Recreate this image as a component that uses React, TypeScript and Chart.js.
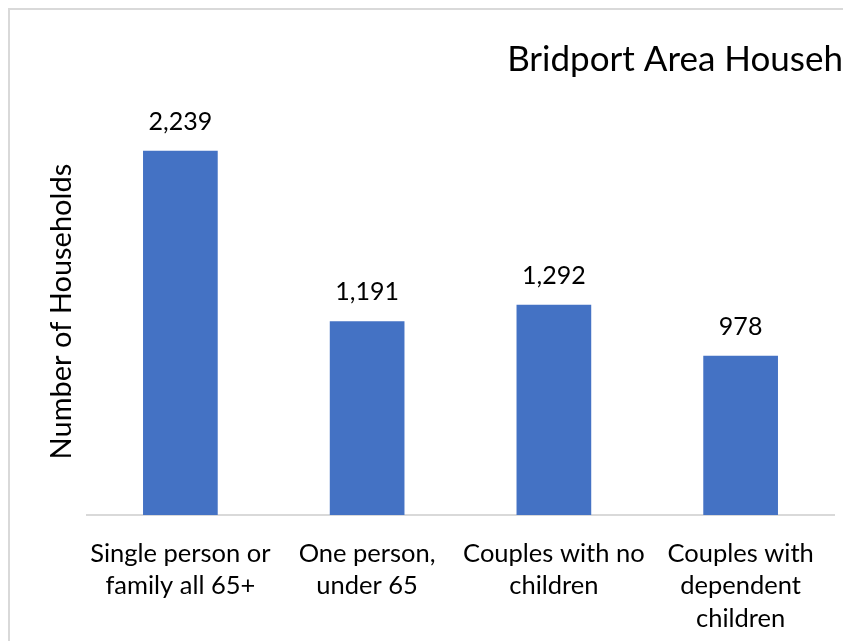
import React, { useEffect, useRef } from "react";
import { Chart, registerables } from "chart.js";

Chart.register(...registerables);

const categories: string[][] = [
  ["Single person or", "family all 65+"],
  ["One person,", "under 65"],
  ["Couples with no", "children"],
  ["Couples with", "dependent", "children"],
];
const households: number[] = [2239, 1191, 1292, 978];
const chartTitle = "Bridport Area Households";
const yAxisTitle = "Number of Households";
const yMin = 0;
const yMax = 2500;

const FONT = "Lato, 'Open Sans', sans-serif";
const TITLE_SIZE = 35;
const CANVAS_H = 700;
const PLOT_LEFT = 77;
const PLOT_RIGHT = 824;
const PLOT_BOTTOM = 505;

const fmt = (v: number) => v.toLocaleString("en-US");

const valueLabels = {
  id: "valueLabels",
  afterDatasetsDraw(chart: any) {
    const ctx = chart.ctx;
    const meta = chart.getDatasetMeta(0);
    ctx.save();
    ctx.font = `25px ${FONT}`;
    ctx.fillStyle = "#000000";
    ctx.textAlign = "center";
    ctx.textBaseline = "middle";
    meta.data.forEach((bar: any, i: number) => {
      ctx.fillText(fmt(households[i]), bar.x, bar.y - 29);
    });
    ctx.restore();
  },
};

function measureTitle(): number {
  const c = document.createElement("canvas");
  const g = c.getContext("2d");
  if (!g) return 380;
  g.font = `${TITLE_SIZE}px ${FONT}`;
  return g.measureText(chartTitle).width;
}

export default function App() {
  const ref = useRef<HTMLCanvasElement | null>(null);
  const boxRef = useRef<HTMLDivElement | null>(null);

  useEffect(() => {
    const canvas = ref.current;
    if (!canvas) return;
    const tw = measureTitle();
    const W = Math.round(2 * 497.3 + tw);
    canvas.width = W;
    canvas.height = CANVAS_H;
    canvas.style.width = W + "px";
    canvas.style.height = CANVAS_H + "px";
    if (boxRef.current) boxRef.current.style.width = W + 4 + "px";

    const chart = new Chart(canvas, {
      type: "bar",
      data: {
        labels: categories,
        datasets: [
          {
            data: households,
            backgroundColor: "#4472C4",
            borderWidth: 0,
            barPercentage: 0.4,
            categoryPercentage: 1,
          },
        ],
      },
      options: {
        responsive: false,
        animation: false,
        devicePixelRatio: 1,
        layout: { padding: 0 },
        plugins: {
          legend: { display: false },
          tooltip: { enabled: false },
          title: {
            display: true,
            text: chartTitle,
            color: "#000000",
            font: { family: FONT, size: TITLE_SIZE, weight: "normal", lineHeight: 1.2 },
            padding: { top: 28.5, bottom: 27.7 },
          },
        },
        scales: {
          x: {
            grid: { display: false, drawTicks: false },
            border: { display: true, color: "#d9d9d9", width: 2 },
            ticks: {
              color: "#000000",
              padding: 22.5,
              maxRotation: 0,
              autoSkip: false,
              font: { family: FONT, size: 25.5, lineHeight: 1.27 },
            },
            afterFit: (s: any) => {
              s.height = CANVAS_H - PLOT_BOTTOM;
            },
          },
          y: {
            min: yMin,
            max: yMax,
            grid: { display: false, drawTicks: false },
            border: { display: false },
            ticks: { display: false },
            title: {
              display: true,
              text: yAxisTitle,
              color: "#000000",
              font: { family: FONT, size: 29, lineHeight: 1.2 },
              padding: { top: 34.6, bottom: 0 },
            },
            afterFit: (s: any) => {
              s.width = PLOT_LEFT;
            },
          },
          yRight: {
            type: "linear",
            position: "right",
            display: true,
            grid: { display: false, drawTicks: false },
            border: { display: false },
            ticks: { display: false },
            afterFit: (s: any) => {
              s.width = W - PLOT_RIGHT;
            },
          },
        },
      },
      plugins: [valueLabels],
    } as any);

    return () => chart.destroy();
  }, []);

  return (
    <div
      style={{
        position: "fixed",
        left: 0,
        top: 0,
        width: 843,
        height: 641,
        overflow: "hidden",
        background: "#ffffff",
      }}
    >
      <div
        ref={boxRef}
        style={{
          position: "absolute",
          left: 8,
          top: 8,
          height: CANVAS_H + 4,
          border: "2px solid #d9d9d9",
          boxSizing: "border-box",
          background: "#ffffff",
        }}
      >
        <canvas ref={ref} style={{ display: "block" }} />
      </div>
    </div>
  );
}
